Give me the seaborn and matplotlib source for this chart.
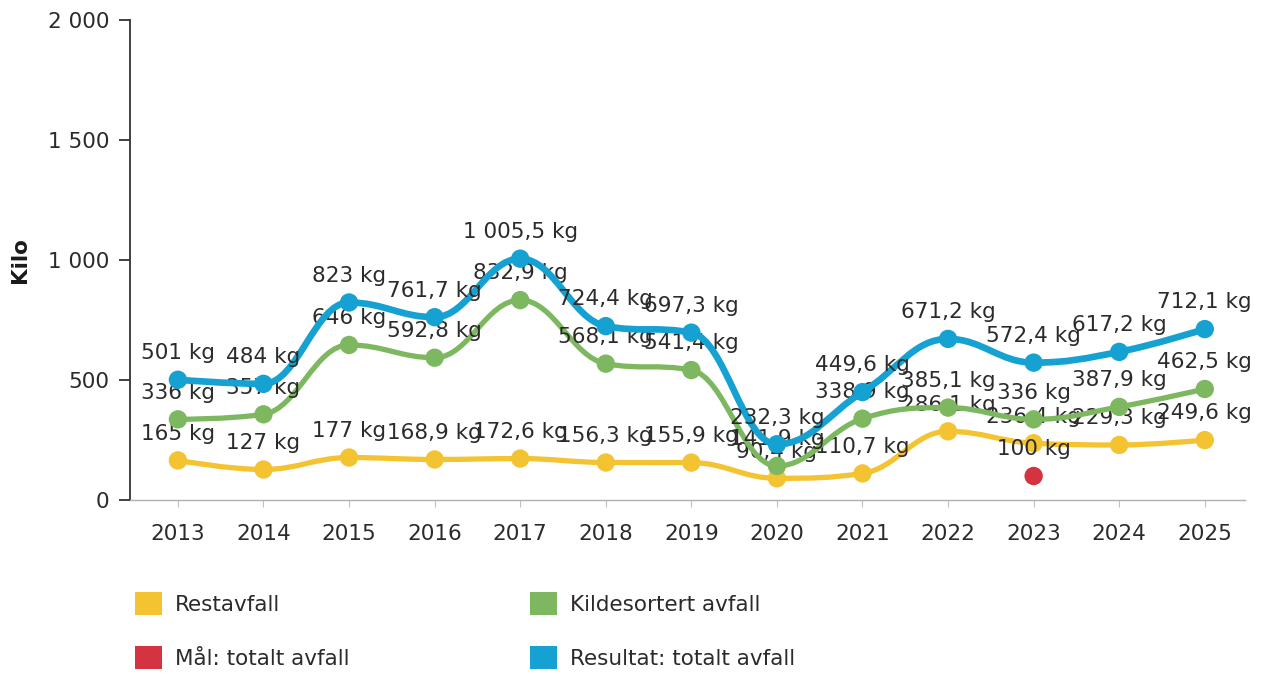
import numpy as np
import pandas as pd
import matplotlib.pyplot as plt
from matplotlib.path import Path
from matplotlib.patches import PathPatch, Patch
import seaborn as sns

years = ["2013", "2014", "2015", "2016", "2017", "2018", "2019",
         "2020", "2021", "2022", "2023", "2024", "2025"]
restavfall = [165, 127, 177, 168.9, 172.6, 156.3, 155.9, 90.4, 110.7, 286.1, 236.4, 229.3, 249.6]
kildesortert = [336, 357, 646, 592.8, 832.9, 568.1, 541.4, 141.9, 338.9, 385.1, 336, 387.9, 462.5]
resultat = [501, 484, 823, 761.7, 1005.5, 724.4, 697.3, 232.3, 449.6, 671.2, 572.4, 617.2, 712.1]
maal_year = "2023"
maal_value = 100

YELLOW = "#f3c332"
GREEN = "#7db860"
BLUE = "#15a1d1"
RED = "#d4343f"

sns.set_theme(style="white")
plt.rcParams['font.family'] = ['DejaVu Sans']
FS = 15.5


def fmt(v):
    if float(v).is_integer():
        s = f"{int(v):,}"
    else:
        s = f"{v:,.1f}"
    return s.replace(",", " ").replace(".", ",") + " kg"


def spline_path(xs, ys, smoothing=1.5):
    # highcharts-like spline: bezier control points around each point
    n = len(xs)
    denom = smoothing + 1
    left = [None] * n
    right = [None] * n
    for i in range(1, n - 1):
        px, py = xs[i], ys[i]
        lx, ly = xs[i - 1], ys[i - 1]
        nx, ny = xs[i + 1], ys[i + 1]
        lcx = (smoothing * px + lx) / denom
        lcy = (smoothing * py + ly) / denom
        rcx = (smoothing * px + nx) / denom
        rcy = (smoothing * py + ny) / denom
        corr = (rcy - lcy) * (rcx - px) / (rcx - lcx) + py - rcy
        lcy += corr
        rcy += corr
        if lcy > ly and lcy > py:
            lcy = max(ly, py)
            rcy = 2 * py - lcy
        elif lcy < ly and lcy < py:
            lcy = min(ly, py)
            rcy = 2 * py - lcy
        if rcy > ny and rcy > py:
            rcy = max(ny, py)
            lcy = 2 * py - rcy
        elif rcy < ny and rcy < py:
            rcy = min(ny, py)
            lcy = 2 * py - rcy
        left[i] = (lcx, lcy)
        right[i] = (rcx, rcy)
    verts = [(xs[0], ys[0])]
    codes = [Path.MOVETO]
    for i in range(1, n):
        c1 = right[i - 1] if right[i - 1] else (xs[i - 1], ys[i - 1])
        c2 = left[i] if left[i] else (xs[i], ys[i])
        verts += [c1, c2, (xs[i], ys[i])]
        codes += [Path.CURVE4] * 3
    return Path(verts, codes)


fig = plt.figure(figsize=(12.68, 6.73), dpi=100)
ax = fig.add_axes([130 / 1268, 1 - 500 / 673, 1115 / 1268, 480 / 673])

xpos = np.arange(len(years))
series = [(restavfall, YELLOW, 3.8, "Restavfall"),
          (kildesortert, GREEN, 3.8, "Kildesortert avfall"),
          (resultat, BLUE, 4.8, "Resultat: totalt avfall")]

for k, (vals, col, lw, name) in enumerate(series):
    z = 2 + k * 3
    ax.add_patch(PathPatch(spline_path(xpos, vals), facecolor="none", edgecolor=col,
                           lw=lw, capstyle="round", joinstyle="round", zorder=z))
    df = pd.DataFrame({"x": xpos, "y": vals})
    sns.scatterplot(data=df, x="x", y="y", color=col, s=175, edgecolor="none",
                    ax=ax, zorder=z + 1, legend=False)
    for x, v in zip(xpos, vals):
        ax.annotate(fmt(v), (x, v), xytext=(0, 12), textcoords="offset points",
                    ha="center", va="bottom", fontsize=FS, color="#2b2b2b", zorder=z + 2)
    if k == 0:
        mx = years.index(maal_year)
        sns.scatterplot(x=[mx], y=[maal_value], color=RED, s=175, edgecolor="none",
                        ax=ax, zorder=z + 2, legend=False)
        ax.annotate(fmt(maal_value), (mx, maal_value), xytext=(0, 12), textcoords="offset points",
                    ha="center", va="bottom", fontsize=FS, color="#2b2b2b", zorder=z + 2)

ax.set_xlim(-0.56, 12.47)
ax.set_ylim(0, 2000)
ax.set_xticks(xpos)
ax.set_xticklabels(years, fontsize=FS, color="#2b2b2b")
ax.set_yticks([0, 500, 1000, 1500, 2000])
ax.set_yticklabels(["0", "500", "1 000", "1 500", "2 000"], fontsize=FS, color="#2b2b2b")
ax.set_xlabel("")
ax.set_ylabel("Kilo", fontsize=FS, fontweight="bold", color="#1a1a1a")
ax.yaxis.set_label_coords(-0.09, 0.5)

for s in ["top", "right"]:
    ax.spines[s].set_visible(False)
ax.spines["left"].set_color("#333333")
ax.spines["left"].set_linewidth(1.3)
ax.spines["bottom"].set_color("#b0b0b0")
ax.spines["bottom"].set_linewidth(1.0)
ax.tick_params(axis="y", which="major", left=True, length=8, width=1.3, color="#333333", pad=7)
ax.tick_params(axis="x", which="major", bottom=True, length=5, width=0.8, color="#c0c0c0", pad=12)

handles = [Patch(facecolor=YELLOW, edgecolor="none"), Patch(facecolor=RED, edgecolor="none"),
           Patch(facecolor=GREEN, edgecolor="none"), Patch(facecolor=BLUE, edgecolor="none")]
labels = ["Restavfall", "Mål: totalt avfall", "Kildesortert avfall", "Resultat: totalt avfall"]
fig.legend(handles, labels, loc="upper left", bbox_to_anchor=(135 / 1268, 1 - 592 / 673),
           ncol=2, frameon=False, fontsize=FS, handlelength=1.25, handleheight=1.25,
           handletextpad=0.6, labelspacing=1.45, columnspacing=8.4, borderpad=0,
           borderaxespad=0, labelcolor="#2b2b2b")

fig.savefig("out.png", dpi=100)
